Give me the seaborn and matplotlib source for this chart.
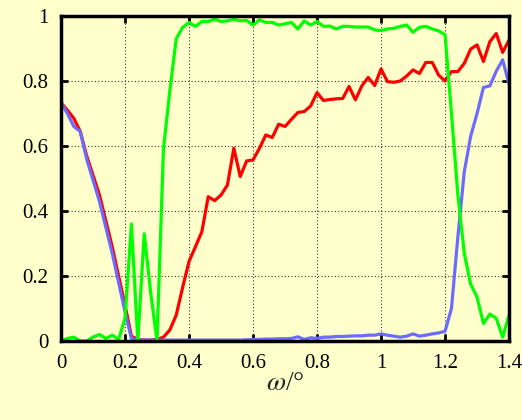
import matplotlib
matplotlib.use("Agg")
import matplotlib.pyplot as plt
import seaborn as sns
import numpy as np
import pandas as pd

# omega values, step 0.02
omega = [round(0.02 * i, 2) for i in range(71)]

red = [0.733, 0.71, 0.685, 0.645, 0.57, 0.51, 0.45, 0.37, 0.29, 0.20,
       0.11, 0.015, 0.005, 0.003, 0.003, 0.005, 0.012, 0.034, 0.08, 0.165,
       0.245, 0.29, 0.336, 0.444, 0.432, 0.449, 0.48, 0.593, 0.506, 0.554,
       0.557, 0.593, 0.634, 0.626, 0.667, 0.66, 0.682, 0.703, 0.706, 0.723,
       0.764, 0.74, 0.743, 0.745, 0.746, 0.783, 0.742, 0.785, 0.811, 0.786,
       0.837, 0.798, 0.796, 0.80, 0.815, 0.834, 0.823, 0.857, 0.857, 0.818,
       0.80, 0.829, 0.829, 0.854, 0.898, 0.911, 0.86, 0.921, 0.946, 0.888,
       0.926]

blue = [0.733, 0.70, 0.66, 0.645, 0.56, 0.495, 0.43, 0.35, 0.27, 0.18,
        0.09, 0.008, 0.003, 0.003, 0.003, 0.003, 0.003, 0.003, 0.003, 0.003,
        0.003, 0.003, 0.003, 0.003, 0.003, 0.003, 0.003, 0.003, 0.003, 0.004,
        0.005, 0.005, 0.006, 0.006, 0.007, 0.007, 0.008, 0.013, 0.005, 0.01,
        0.008, 0.012, 0.012, 0.014, 0.014, 0.015, 0.016, 0.016, 0.018, 0.018,
        0.022, 0.018, 0.015, 0.012, 0.015, 0.022, 0.015, 0.018, 0.022, 0.025,
        0.03, 0.10, 0.32, 0.52, 0.63, 0.70, 0.78, 0.785, 0.83, 0.865,
        0.79]

green = [0.0, 0.008, 0.012, 0.0, 0.0, 0.012, 0.02, 0.008, 0.018, 0.005,
         0.07, 0.36, 0.0, 0.33, 0.15, 0.0, 0.59, 0.77, 0.93, 0.965,
         0.98, 0.968, 0.983, 0.983, 0.99, 0.983, 0.985, 0.99, 0.985, 0.986,
         0.972, 0.988, 0.98, 0.98, 0.972, 0.976, 0.98, 0.96, 0.985, 0.972,
         0.983, 0.968, 0.969, 0.96, 0.968, 0.968, 0.966, 0.966, 0.966, 0.957,
         0.955, 0.96, 0.962, 0.968, 0.972, 0.95, 0.965, 0.968, 0.96, 0.954,
         0.942, 0.70, 0.45, 0.27, 0.175, 0.135, 0.054, 0.083, 0.07, 0.012,
         0.08]

xticks = [0, 0.2, 0.4, 0.6, 0.8, 1.0, 1.2, 1.4]
xticklabels = ["0", "0.2", "0.4", "0.6", "0.8", "1", "1.2", "1.4"]
yticks = [0, 0.2, 0.4, 0.6, 0.8, 1.0]
yticklabels = ["0", "0.2", "0.4", "0.6", "0.8", "1"]

df = pd.DataFrame({
    "omega": omega * 3,
    "value": red + blue + green,
    "series": ["red"] * 71 + ["blue"] * 71 + ["green"] * 71,
})

bg = "#FFFFCC"
sns.set_style("ticks")
plt.rcParams["font.family"] = ["Liberation Serif", "DejaVu Serif"]
plt.rcParams["mathtext.fontset"] = "stix"

fig = plt.figure(figsize=(5.22, 4.20), dpi=100, facecolor=bg)
ax = fig.add_axes([0.1169, 0.188, 0.8583, 0.774])
ax.set_facecolor(bg)

sns.lineplot(data=df, x="omega", y="value", hue="series",
             hue_order=["red", "blue", "green"],
             palette={"red": "#FF0000", "blue": "#6B6BFF", "green": "#00FF00"},
             linewidth=2.3, legend=False, ax=ax)

ax.set_xlim(0, 1.4)
ax.set_ylim(0, 1)
ax.set_xticks(xticks)
ax.set_xticklabels(xticklabels)
ax.set_yticks(yticks)
ax.set_yticklabels(yticklabels)
ax.grid(True, linestyle=(0, (1, 2)), color="#333333", linewidth=0.8)
ax.tick_params(direction="in", length=5, width=2, labelsize=15, pad=9,
               top=True, right=True, colors="black")
for s in ax.spines.values():
    s.set_linewidth(2.5)
    s.set_color("black")
    s.set_zorder(3)

ax.set_xlabel(r"$\omega$/°", fontsize=20, labelpad=-1)
ax.set_ylabel("")

fig.savefig("out.png", dpi=100, facecolor=bg)
